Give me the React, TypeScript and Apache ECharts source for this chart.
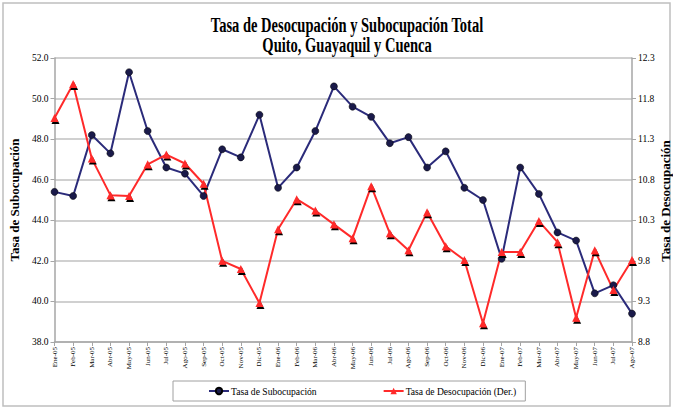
import React, { useEffect, useRef } from "react";
import * as echarts from "echarts";

const categories = [
  "Ene-05", "Feb-05", "Mar-05", "Abr-05", "May-05", "Jun-05", "Jul-05", "Ago-05",
  "Sep-05", "Oct-05", "Nov-05", "Dic-05", "Ene-06", "Feb-06", "Mar-06", "Abr-06",
  "May-06", "Jun-06", "Jul-06", "Ago-06", "Sep-06", "Oct-06", "Nov-06", "Dic-06",
  "Ene-07", "Feb-07", "Mar-07", "Abr-07", "May-07", "Jun-07", "Jul-07", "Ago-07",
];

const subocupacion = [
  45.4, 45.2, 48.2, 47.3, 51.3, 48.4, 46.6, 46.3, 45.2, 47.5, 47.1, 49.2,
  45.6, 46.6, 48.4, 50.6, 49.6, 49.1, 47.8, 48.1, 46.6, 47.4, 45.6, 45.0,
  42.1, 46.6, 45.3, 43.4, 43.0, 40.4, 40.8, 39.4,
];

const desocupacion = [
  11.56, 11.98, 11.06, 10.61, 10.6, 10.99, 11.11, 11.0, 10.75, 9.8, 9.7, 9.28,
  10.19, 10.56, 10.42, 10.25, 10.08, 10.72, 10.14, 9.93, 10.4, 9.98, 9.81, 9.03,
  9.91, 9.91, 10.29, 10.03, 9.1, 9.93, 9.44, 9.81,
];

const titleLines = ["Tasa de Desocupación y Subocupación Total", "Quito, Guayaquil y Cuenca"];
const leftAxisName = "Tasa de Subocupación";
const rightAxisName = "Tasa de Desocupación";

const FONT = "Liberation Serif";

export default function App() {
  const ref = useRef<HTMLDivElement>(null);
  useEffect(() => {
    if (!ref.current) return;
    const chart = echarts.init(ref.current, undefined, { renderer: "svg" });
    chart.setOption({
      animation: false,
      backgroundColor: "#fff",
      textStyle: { fontFamily: FONT },
      graphic: [
        {
          type: "rect",
          shape: { x: 3, y: 3, width: 667, height: 403 },
          style: { fill: "none", stroke: "#bfbfbf", lineWidth: 1.5 },
          silent: true,
        },
        {
          type: "text",
          x: 347,
          y: 24,
          scaleX: 0.66,
          style: {
            text: titleLines[0],
            font: "bold 22px Liberation Serif",
            fill: "#000",
            align: "center",
            verticalAlign: "middle",
          },
          silent: true,
        },
        {
          type: "text",
          x: 347,
          y: 44,
          scaleX: 0.66,
          style: {
            text: titleLines[1],
            font: "bold 22px Liberation Serif",
            fill: "#000",
            align: "center",
            verticalAlign: "middle",
          },
          silent: true,
        },
        {
          type: "text",
          x: 665,
          y: 201,
          rotation: Math.PI / 2,
          style: {
            text: rightAxisName,
            font: "bold 13px Liberation Serif",
            fill: "#000",
            align: "center",
            verticalAlign: "middle",
          },
          silent: true,
        },
      ],
      legend: {
        top: 381,
        left: 173,
        itemGap: 66,
        padding: [5, 9, 5, 35],
        borderColor: "#a0a0a0",
        borderWidth: 1,
        itemWidth: 20,
        itemHeight: 8,
        textStyle: { fontFamily: FONT, fontSize: 9.6, color: "#000", padding: [0, 0, 0, -3] },
        data: ["Tasa de Subocupación", "Tasa de Desocupación (Der.)"],
      },
      grid: { left: 48, right: 41, top: 58, bottom: 66 },
      xAxis: {
        type: "category",
        data: categories,
        boundaryGap: false,
        axisLine: { lineStyle: { color: "#a6a6a6", width: 1.5 } },
        axisTick: { show: true, length: 4, interval: 0, lineStyle: { color: "#a6a6a6" } },
        axisLabel: {
          rotate: 90,
          interval: 0,
          fontSize: 7,
          fontFamily: FONT,
          color: "#000",
          margin: 5,
        },
        splitLine: { show: false },
      },
      yAxis: [
        {
          type: "value",
          name: leftAxisName,
          nameLocation: "middle",
          nameGap: 31,
          nameTextStyle: { fontFamily: FONT, fontSize: 13, fontWeight: "bold", color: "#000" },
          min: 38,
          max: 52,
          interval: 2,
          axisLine: { show: true, lineStyle: { color: "#a6a6a6", width: 1.5 } },
          axisTick: { show: true, length: 4, lineStyle: { color: "#a6a6a6" } },
          axisLabel: {
            fontSize: 9.5,
            fontFamily: FONT,
            color: "#000",
            margin: 6,
            formatter: (v: number) => v.toFixed(1),
          },
          splitLine: { show: true, lineStyle: { color: "#c0c0c0", width: 1.5 } },
        },
        {
          type: "value",
          min: 8.8,
          max: 12.3,
          interval: 0.5,
          axisLine: { show: true, lineStyle: { color: "#a6a6a6", width: 1.5 } },
          axisTick: { show: true, length: 4, lineStyle: { color: "#a6a6a6" } },
          axisLabel: {
            fontSize: 9.5,
            fontFamily: FONT,
            color: "#000",
            margin: 6,
            formatter: (v: number) => v.toFixed(1),
          },
          splitLine: { show: false },
        },
      ],
      series: [
        {
          name: "Tasa de Subocupación",
          type: "line",
          yAxisIndex: 0,
          data: subocupacion,
          symbol: "circle",
          symbolSize: 7,
          lineStyle: { color: "#2b2b7a", width: 2 },
          itemStyle: { color: "#1a1a4a", borderColor: "#000", borderWidth: 0.5 },
        },
        {
          name: "Tasa de Desocupación (Der.)",
          type: "line",
          yAxisIndex: 1,
          data: desocupacion,
          symbol: "triangle",
          symbolSize: 8,
          lineStyle: { color: "#ff2a2a", width: 2 },
          itemStyle: {
            color: "#ff2a2a",
            shadowColor: "#000",
            shadowOffsetY: 2,
            shadowOffsetX: 1,
            shadowBlur: 0,
          },
        },
      ],
    });
    return () => chart.dispose();
  }, []);
  return (
    <div
      ref={ref}
      style={{ position: "absolute", left: 0, top: 0, width: 673, height: 408 }}
    />
  );
}
